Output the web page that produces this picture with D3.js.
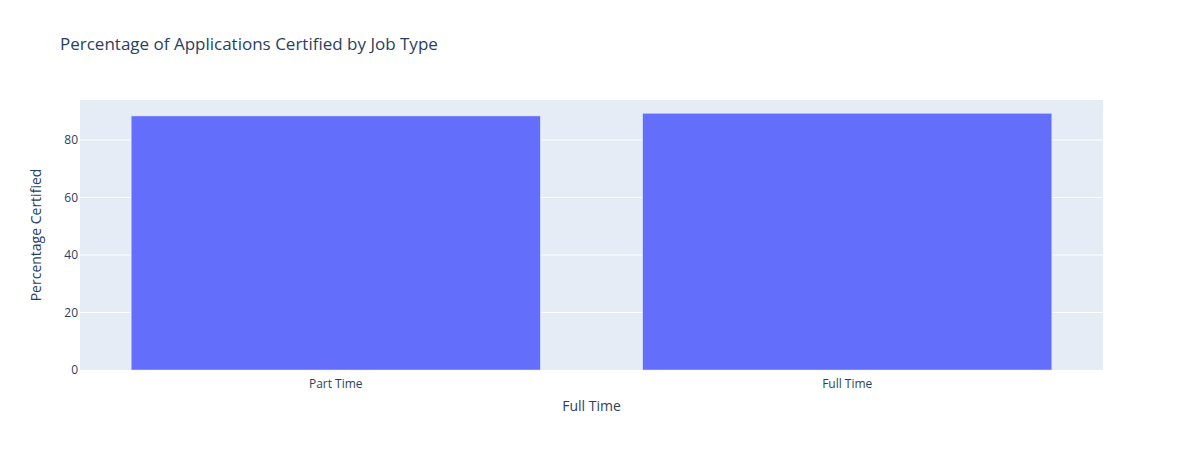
<!DOCTYPE html>
<html>
<head>
<meta charset="utf-8">
<script src="https://cdn.jsdelivr.net/npm/d3@7"></script>
<style>
  body { margin: 0; background: #fff; }
  text { font-family: "Open Sans", sans-serif; }
</style>
</head>
<body>
<svg id="chart" width="1183" height="450"></svg>
<script>
const categories = ["Part Time", "Full Time"];
const values = [88.35, 89.3];
const yTicks = [0, 20, 40, 60, 80];
const chartTitle = "Percentage of Applications Certified by Job Type";
const xTitle = "Full Time";
const yTitle = "Percentage Certified";

const svg = d3.select("#chart");
const W = 1183, H = 450;
const margin = { left: 80, right: 80, top: 100, bottom: 80 };
const pw = W - margin.left - margin.right;
const ph = H - margin.top - margin.bottom;

const x = d3.scaleBand().domain(categories).range([margin.left, margin.left + pw]).paddingInner(0.2).paddingOuter(0.1);
const y = d3.scaleLinear().domain([0, d3.max(values) * 1.0515]).range([margin.top + ph, margin.top]);

svg.append("rect").attr("x", margin.left).attr("y", margin.top).attr("width", pw).attr("height", ph).attr("fill", "#E5ECF6");

// grid lines
svg.append("g").selectAll("line").data(yTicks.filter(d => d !== 0)).join("line")
  .attr("x1", margin.left).attr("x2", margin.left + pw)
  .attr("y1", d => y(d)).attr("y2", d => y(d))
  .attr("stroke", "#fff").attr("stroke-width", 1);

// bars
svg.append("g").selectAll("rect").data(categories).join("rect")
  .attr("x", d => x(d))
  .attr("width", x.bandwidth())
  .attr("y", (d, i) => y(values[i]))
  .attr("height", (d, i) => y(0) - y(values[i]))
  .attr("fill", "#636EFA")
  .attr("stroke", "#E5ECF6").attr("stroke-width", 0.5);

// y axis
const yAxis = d3.axisLeft(y).tickValues(yTicks).tickSize(0).tickPadding(2).tickFormat(d3.format("d"));
const gy = svg.append("g").attr("transform", `translate(${margin.left},0)`).call(yAxis);
gy.select(".domain").remove();
gy.selectAll("text").attr("fill", "#2a3f5f").style("font-size", "12px").style("font-family", "'Open Sans', sans-serif");

// x axis
const xAxis = d3.axisBottom(x).tickSize(0).tickPadding(9);
const gx = svg.append("g").attr("transform", `translate(0,${margin.top + ph})`).call(xAxis);
gx.select(".domain").remove();
gx.selectAll("text").attr("fill", "#2a3f5f").style("font-size", "12px").style("font-family", "'Open Sans', sans-serif");

// titles
svg.append("text").attr("x", 60).attr("y", 50).text(chartTitle)
  .attr("fill", "#2a3f5f").style("font-size", "17px");
svg.append("text").attr("x", margin.left + pw / 2).attr("y", 411).attr("text-anchor", "middle").text(xTitle)
  .attr("fill", "#2a3f5f").style("font-size", "14px");
svg.append("text").attr("transform", `translate(41,${margin.top + ph / 2}) rotate(-90)`).attr("text-anchor", "middle").text(yTitle)
  .attr("fill", "#2a3f5f").style("font-size", "14px");
</script>
</body>
</html>
